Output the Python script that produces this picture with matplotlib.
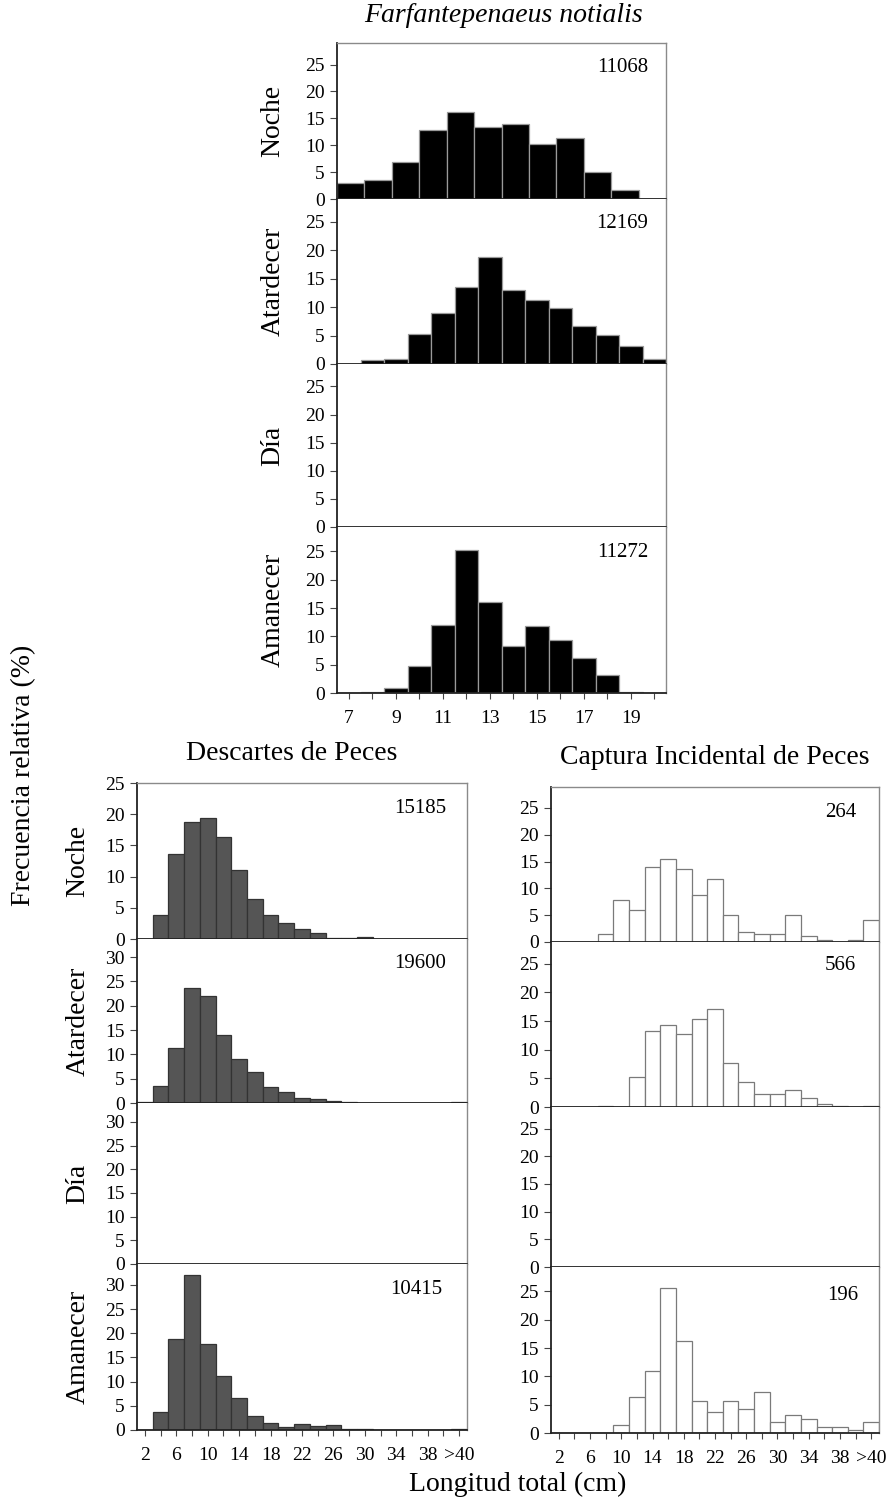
import matplotlib
matplotlib.use("Agg")
import matplotlib.pyplot as plt

plt.rcParams['font.family'] = ['Liberation Serif', 'DejaVu Serif']

# ---- data (relative frequency, %) ----
periods = ["Noche", "Atardecer", "Día", "Amanecer"]

# shrimp: length classes (cm); the night panel uses its own 12 classes
shrimp_noche_classes = list(range(7, 19))
shrimp_classes = list(range(7, 21))
shrimp_noche = [3.0, 3.5, 6.8, 12.9, 16.1, 13.3, 14.0, 10.2, 11.4, 5.1, 1.6, 0.0]
shrimp_atardecer = [0.0, 0.65, 0.9, 5.3, 8.9, 13.5, 18.8, 13.0, 11.3, 9.8, 6.7, 5.1, 3.2, 0.8]
shrimp_dia = []
shrimp_amanecer = [0.0, 0.1, 0.9, 4.8, 12.0, 25.2, 16.1, 8.3, 11.9, 9.4, 6.2, 3.1, 0.2, 0.0]
shrimp_n = ["11068", "12169", None, "11272"]

# fish: 2 cm classes
fish_classes = [str(v) for v in range(2, 41, 2)] + [">40"]
discards_noche = [0, 3.8, 13.7, 18.8, 19.4, 16.3, 11.1, 6.4, 3.8, 2.6, 1.6, 0.9,
                  0.1, 0.1, 0.25, 0, 0, 0, 0, 0, 0]
discards_atardecer = [0.2, 3.5, 11.2, 23.6, 21.9, 14.0, 9.0, 6.3, 3.2, 2.3, 1.1, 0.8,
                      0.4, 0.3, 0, 0, 0, 0, 0, 0, 0.2]
discards_dia = []
discards_amanecer = [0.1, 3.8, 18.9, 32.1, 17.7, 11.2, 6.7, 2.9, 1.5, 0.7, 1.2, 0.8,
                     1.0, 0.3, 0.3, 0.05, 0.05, 0.05, 0.05, 0.05, 0.2]
discards_n = ["15185", "19600", None, "10415"]

bycatch_noche = [0, 0, 0, 1.5, 7.9, 6.0, 14.0, 15.5, 13.6, 8.7, 11.7, 4.95,
                 1.9, 1.5, 1.5, 4.95, 1.1, 0.4, 0, 0.4, 4.1]
bycatch_atardecer = [0, 0, 0, 0.1, 0, 5.3, 13.3, 14.4, 12.7, 15.4, 17.1, 7.6,
                     4.3, 2.2, 2.3, 3.0, 1.6, 0.5, 0.1, 0, 0.1]
bycatch_dia = []
bycatch_amanecer = [0, 0, 0, 0, 1.5, 6.3, 10.9, 25.6, 16.2, 5.7, 3.7, 5.7,
                    4.2, 7.3, 2.0, 3.2, 2.5, 1.05, 1.05, 0.6, 2.0]
bycatch_n = ["264", "566", None, "196"]

W, H = 890, 1510
fig = plt.figure(figsize=(W / 100, H / 100), dpi=100)
TICK_FS = 14


def add_ax(x0, x1, y0, y1):
    return fig.add_axes([x0 / W, 1 - y1 / H, (x1 - x0) / W, (y1 - y0) / H])


def style(ax, first, ymax, yticks):
    ax.set_ylim(0, ymax)
    ax.set_yticks(yticks)
    for s in ("top", "right"):
        ax.spines[s].set_color("#8a8a8a")
        ax.spines[s].set_linewidth(1.0)
    for s in ("left", "bottom"):
        ax.spines[s].set_color("#222222")
        ax.spines[s].set_linewidth(1.3)
    if not first:
        ax.spines["top"].set_visible(False)
    ax.tick_params(axis="y", direction="out", length=5, width=0.8,
                   color="#444444", labelsize=TICK_FS, pad=4)
    ax.tick_params(axis="x", bottom=False, labelbottom=False)


def block(xl, xr, rows, series, ns, ymaxes, yticks_list, fc, ec, xpos_list,
          label_x, n_off, bottom_ticks, bottom_labels):
    axes = []
    for i, (y0, y1) in enumerate(rows):
        ax = add_ax(xl, xr, y0, y1)
        xs = xpos_list[i]
        style(ax, i == 0, ymaxes[i], yticks_list[i])
        ax.set_xlim(-0.5, len(xs) - 0.5)
        if series[i]:
            ax.bar(range(len(series[i])), series[i], width=1.0, color=fc,
                   edgecolor=ec, linewidth=0.9, zorder=2)
        if ns[i]:
            ax.annotate(ns[i], xy=(1, 1), xycoords="axes fraction",
                        xytext=n_off[i], textcoords="offset pixels",
                        ha="right", va="center", fontsize=15)
        if label_x is not None:
            fig.text(label_x / W, 1 - (y0 + y1) / 2 / H, periods[i],
                     rotation=90, ha="center", va="center", fontsize=20)
        axes.append(ax)
    axb = axes[-1]
    axb.tick_params(axis="x", bottom=True, labelbottom=True, direction="out",
                    length=4, width=0.8, color="#444444", labelsize=TICK_FS, pad=8)
    axb.set_xticks(range(len(bottom_ticks)))
    axb.set_xticklabels(bottom_labels)
    return axes


# ---- shrimp block ----
shr_rows = [(43, 199), (199, 364), (364, 527), (527, 693)]
block(337, 666, shr_rows,
      [shrimp_noche, shrimp_atardecer, shrimp_dia, shrimp_amanecer], shrimp_n,
      [29, 29, 29, 29.3], [range(0, 26, 5)] * 4,
      "black", "#9a9a9a",
      [shrimp_noche_classes, shrimp_classes, shrimp_classes, shrimp_classes],
      273, [(-18, -25), (-18, -24), None, (-18, -26)],
      shrimp_classes,
      [str(c) if (c - 7) % 2 == 0 and c < 20 else "" for c in shrimp_classes])
fig.text(503 / W, 1 - 15 / H, "Farfantepenaeus notialis", style="italic",
         ha="center", va="center", fontsize=20)

fish_labels = [c if i % 2 == 0 else "" for i, c in enumerate(fish_classes)]

# ---- discards block ----
dis_rows = [(783, 939), (939, 1103), (1103, 1264), (1264, 1430)]
block(137, 467, dis_rows,
      [discards_noche, discards_atardecer, discards_dia, discards_amanecer], discards_n,
      [25, 33.7, 34, 34.3],
      [range(0, 26, 5), range(0, 31, 5), range(0, 31, 5), range(0, 31, 5)],
      "#555555", "#333333",
      [fish_classes] * 4,
      78, [(-21, -25), (-21, -24), None, (-25, -26)],
      fish_classes, fish_labels)
fig.text(292 / W, 1 - 754 / H, "Descartes de Peces", ha="center", va="center",
         fontsize=20)

# ---- bycatch block ----
byc_rows = [(787, 942), (942, 1107), (1107, 1267), (1267, 1433)]
block(551, 879, byc_rows,
      [bycatch_noche, bycatch_atardecer, bycatch_dia, bycatch_amanecer], bycatch_n,
      [28.9, 28.8, 28.9, 29.3], [range(0, 26, 5)] * 4,
      "white", "#7a7a7a",
      [fish_classes] * 4,
      None, [(-23, -25), (-23, -23), None, (-21, -28)],
      fish_classes, fish_labels)
fig.text(715 / W, 1 - 758 / H, "Captura Incidental de Peces", ha="center",
         va="center", fontsize=20)

# ---- shared labels ----
fig.text(24 / W, 1 - 775 / H, "Frecuencia relativa (%)", rotation=90,
         ha="center", va="center", fontsize=20)
fig.text(518 / W, 1 - 1484 / H, "Longitud total (cm)", ha="center",
         va="center", fontsize=20)

fig.savefig("out.png", dpi=100)
